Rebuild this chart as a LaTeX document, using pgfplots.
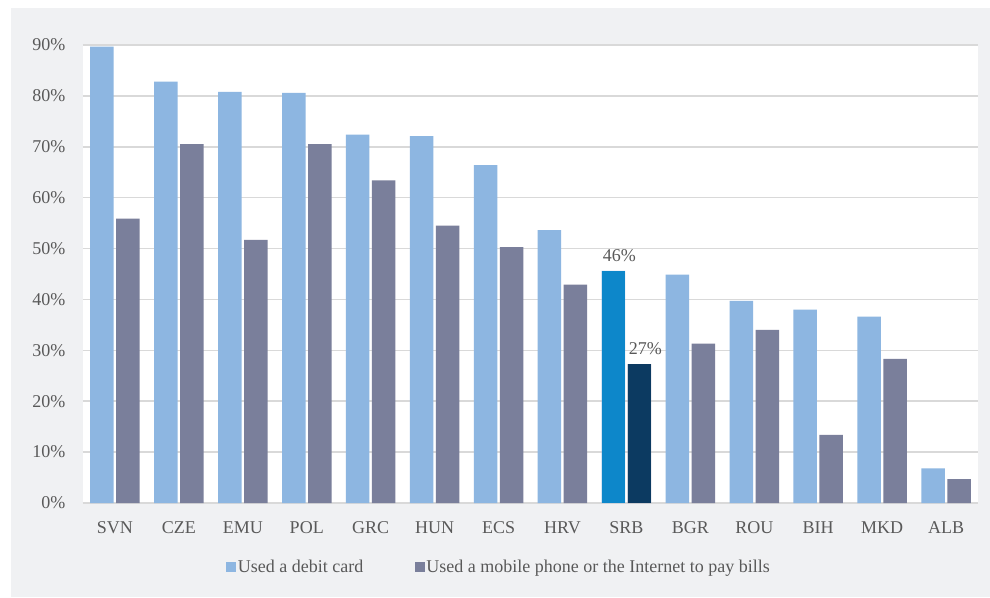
\documentclass[border=0pt]{standalone}
\usepackage{pgfplots}
\pgfplotsset{compat=1.18}
\usepackage{fontspec}
\setmainfont{Liberation Serif}
\definecolor{cA}{HTML}{8DB6E1}
\definecolor{cB}{HTML}{7A7F9B}
\definecolor{cC}{HTML}{0D87CA}
\definecolor{cD}{HTML}{0C3A61}
\definecolor{bgc}{HTML}{F0F1F3}
\definecolor{gridc}{HTML}{D9D9D9}
\definecolor{txt}{HTML}{595959}
\begin{document}
\begin{tikzpicture}[x=1pt,y=1pt]
\fill[bgc] (-72,-94) rectangle (907,495);
\begin{axis}[
  at={(0,0)}, anchor=south west,
  scale only axis, width=895pt, height=458pt,
  xmin=-0.5, xmax=13.5, ymin=0, ymax=90,
  ybar, bar width=23.5pt,
  xtick={0,...,13},
  xticklabels={SVN,CZE,EMU,POL,GRC,HUN,ECS,HRV,SRB,BGR,ROU,BIH,MKD,ALB},
  ytick={0,10,...,90},
  yticklabel={\pgfmathprintnumber{\tick}\%},
  /pgf/number format/assume math mode=true,
  ymajorgrids, grid style={gridc, line width=1.5pt},
  axis x line*=bottom, axis y line*=left,
  x axis line style={gridc, line width=2pt, -},
  y axis line style={draw=none},
  major tick length=0pt,
  tick label style={font=\fontsize{18}{20}\selectfont, text=txt},
  yticklabel style={xshift=-14pt},
  xticklabel style={yshift=-15pt},
  axis background/.style={fill=white},
  legend columns=2,
  legend style={at={(0.16,-0.14)}, anchor=west, draw=none, fill=none,
    inner sep=0pt, font=\fontsize{18}{20}\selectfont, text=txt,
    nodes={inner sep=1.5pt},
    /tikz/every even column/.append style={column sep=50pt}},
  legend image code/.code={\fill[#1] (0pt,-5pt) rectangle (10pt,5pt);},
  every node near coord/.append style={font=\fontsize{18}{20}\selectfont, text=txt, anchor=south, yshift=6pt, xshift=6pt},
  clip=false,
]
\addplot[fill=cA, draw=none, bar shift=-13pt] coordinates {
(0,89.7) (1,82.8) (2,80.8) (3,80.6) (4,72.4) (5,72.1) (6,66.4)
(7,53.6) (8,45.6) (9,44.9) (10,39.7) (11,38.0) (12,36.6) (13,6.8)};
\addplot[fill=cB, draw=none, bar shift=13pt] coordinates {
(0,55.9) (1,70.5) (2,51.7) (3,70.5) (4,63.4) (5,54.5) (6,50.3)
(7,42.9) (8,27.3) (9,31.3) (10,34.0) (11,13.4) (12,28.3) (13,4.7)};
\addplot[fill=cC, draw=none, bar shift=-13pt, forget plot,
  nodes near coords={46\%}] coordinates {(8,45.6)};
\addplot[fill=cD, draw=none, bar shift=13pt, forget plot,
  nodes near coords={27\%}] coordinates {(8,27.3)};
\legend{Used a debit card, Used a mobile phone or the Internet to pay bills}
\end{axis}
\pgfresetboundingbox
\path (-83,-94) rectangle (907,503);
\end{tikzpicture}
\end{document}
